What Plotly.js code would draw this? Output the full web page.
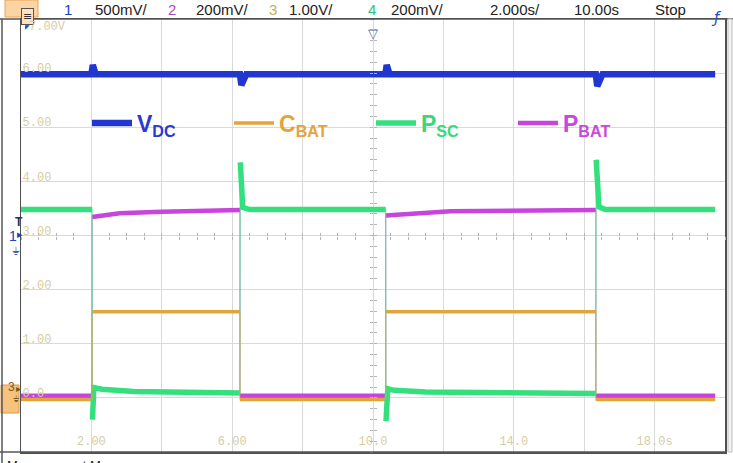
<!DOCTYPE html>
<html><head><meta charset="utf-8">
<script src="https://cdn.plot.ly/plotly-3.0.1.min.js"></script>
<style>html,body{margin:0;padding:0;background:#fff;overflow:hidden}#chart{width:733px;height:463px}</style>
</head><body><div id="chart"></div>
<script>
// ---------------- data (time in s, values in display divisions of the 1.00 V/div scale) ----------------
const vdcTime  = [0, 2.00, 2.04, 2.12, 6.22, 6.26, 6.40, 10.35, 10.39, 10.47, 16.33, 16.37, 16.52, 19.72];
const vdcValue = [5.98, 5.98, 6.15, 5.98, 5.98, 5.78, 5.98, 5.98, 6.15, 5.98, 5.98, 5.76, 5.98, 5.98];

const cbatTime  = [0, 2.02, 2.02, 6.22, 6.22, 10.36, 10.36, 16.33, 16.33, 19.72];
const cbatValue = [-0.03, -0.03, 1.59, 1.59, -0.03, -0.03, 1.59, 1.59, -0.03, -0.03];

const pscTime  = [0, 2.02, 2.03, 2.07, 2.3, 3.2, 6.22, 6.23, 6.26, 6.30, 6.5, 10.36, 10.37, 10.42, 10.6, 11.5, 16.33, 16.34, 16.37, 16.42, 16.6, 19.72];
const pscValue = [3.48, 3.48, -0.40, 0.19, 0.16, 0.12, 0.09, 4.35, 3.85, 3.52, 3.48, 3.48, -0.43, 0.17, 0.14, 0.11, 0.08, 4.40, 3.90, 3.53, 3.48, 3.48];

const pbatTime  = [0, 2.02, 2.02, 2.8, 4.0, 6.22, 6.22, 10.36, 10.36, 12.2, 16.33, 16.33, 19.72];
const pbatValue = [0.04, 0.04, 3.34, 3.41, 3.44, 3.47, 0.04, 0.04, 3.37, 3.45, 3.47, 0.04, 0.04];

const seriesNames  = ['V<sub>DC</sub>', 'C<sub>BAT</sub>', 'P<sub>SC</sub>', 'P<sub>BAT</sub>'];
const seriesColors = ['#2236d2', '#e3a43e', '#34e07e', '#c745dc'];
const legendColors = ['#2a3ad0', '#e6a23c', '#3ad87a', '#c84ad8'];

const xTickVals = [2, 6, 10, 14, 18];
const xTickText = ['2.00', '6.00', '10.0', '14.0', '18.0s'];
const yTickVals = [0, 1, 2, 3, 4, 5, 6];
const yTickText = ['0.0', '1.00', '2.00', '3.00', '4.00', '5.00', '6.00'];
const topLabel = '7.00V';

const headerTexts  = ['1', '500mV/', '2', '200mV/', '3', '1.00V/', '4', '200mV/', '2.000s/', '10.00s', 'Stop'];
const headerColors = ['#2040c0', '#222', '#a050c0', '#222', '#bdb060', '#222', '#30c080', '#222', '#222', '#222', '#222'];
const headerX      = [68, 121, 172, 222, 273, 311, 372, 417, 515, 596, 670];

// ---------------- geometry helpers ----------------
const L = 21, R = 725, T = 19, B = 452;
const px = p => (p - L) / (R - L);
const py = p => (B - p) / (B - T);

function bands(t, v) {
  const bt = [], bv = [];
  for (let i = 0; i < t.length; i++) {
    if (i > 0 && (t[i] - t[i - 1]) < 0.015 && Math.abs(v[i] - v[i - 1]) > 0.8) { bt.push(null); bv.push(null); }
    bt.push(t[i]); bv.push(v[i]);
  }
  return [bt, bv];
}

const series = [
  {t: vdcTime, v: vdcValue, w: 6.5, idx: 0, rank: 1, ax: ['x2', 'y2']},
  {t: pbatTime, v: pbatValue, w: 4.5, idx: 3, rank: 4, ax: ['x', 'y']},
  {t: cbatTime, v: cbatValue, w: 3.5, idx: 1, rank: 2, ax: ['x3', 'y3']},
  {t: pscTime, v: pscValue, w: 5.5, idx: 2, rank: 3, ax: ['x', 'y']}
];

const traces = [];
series.forEach(s => {
  traces.push({x: s.t, y: s.v, type: 'scatter', mode: 'lines', showlegend: false, hoverinfo: 'skip',
    xaxis: s.ax[0], yaxis: s.ax[1], line: {color: seriesColors[s.idx], width: 1.3}, opacity: 0.55});
  const [bt, bv] = bands(s.t, s.v);
  traces.push({x: bt, y: bv, type: 'scatter', mode: 'lines', connectgaps: false, legendrank: s.rank,
    name: '<span style="color:' + legendColors[s.idx] + '">' + seriesNames[s.idx] + '</span>',
    line: {color: seriesColors[s.idx], width: s.w}});
});

const tickFont = {family: 'Liberation Mono, DejaVu Sans Mono, monospace', size: 12, color: '#d6cda2'};

const annotations = [];
headerTexts.forEach((txt, i) => annotations.push({
  xref: 'paper', yref: 'paper', x: px(headerX[i]), y: py(9), xanchor: 'center', yanchor: 'middle',
  text: txt, showarrow: false, font: {family: 'Liberation Sans, Arial', size: 15, color: headerColors[i]}
}));
annotations.push(
  {xref: 'paper', yref: 'paper', x: px(21), y: py(8), text: '≡', showarrow: false, bgcolor: '#fde3c2', bordercolor: '#555', borderwidth: 1, borderpad: 1, font: {family: 'DejaVu Sans', size: 11, color: '#333'}},
  {xref: 'paper', yref: 'paper', x: px(723), y: py(7), text: '<i>ƒ</i>', showarrow: false, font: {family: 'DejaVu Sans', size: 15, color: '#2050c0'}},
  {xref: 'paper', yref: 'paper', x: px(27), y: py(27), xanchor: 'left', yanchor: 'middle', text: topLabel, showarrow: false, font: tickFont},
  {xref: 'paper', yref: 'paper', x: px(373), y: py(24), text: '▽', showarrow: false, font: {family: 'DejaVu Sans', size: 13, color: '#4a70a0'}},
  {xref: 'paper', yref: 'paper', x: px(23), y: py(21), text: '◤', showarrow: false, font: {family: 'DejaVu Sans', size: 6, color: '#2040c0'}},
  {xref: 'paper', yref: 'paper', x: px(13), y: py(222), text: 'T', showarrow: false, font: {family: 'Liberation Sans', size: 12, color: '#203070', weight: 'bold'}},
  {xref: 'paper', yref: 'paper', x: px(7), y: py(236), text: '1', showarrow: false, font: {family: 'Liberation Sans', size: 14, color: '#2040c0'}},
  {xref: 'paper', yref: 'paper', x: px(15), y: py(235), text: '▸', showarrow: false, font: {family: 'DejaVu Sans', size: 11, color: '#2040c0'}},
  {xref: 'paper', yref: 'paper', x: px(10), y: py(251), text: '⏚', showarrow: false, font: {family: 'DejaVu Sans', size: 11, color: '#5060a0'}},
  {xref: 'paper', yref: 'paper', x: px(6), y: py(396), text: '3', showarrow: false, font: {family: 'Liberation Sans', size: 12, color: '#7a5a20'}},
  {xref: 'paper', yref: 'paper', x: px(14), y: py(396), text: '▸', showarrow: false, font: {family: 'DejaVu Sans', size: 10, color: '#7a5a20'}},
  {xref: 'paper', yref: 'paper', x: px(11), y: py(406), text: '⏚', showarrow: false, font: {family: 'DejaVu Sans', size: 9, color: '#7a5a20'}},
  {xref: 'paper', yref: 'paper', x: px(5), y: py(456), xanchor: 'left', yanchor: 'top', text: 'Measurement Menu', showarrow: false, font: {family: 'Liberation Sans', size: 13, color: '#222'}}
);

const shapes = [
  {type: 'rect', xref: 'paper', yref: 'paper', x0: px(5), x1: px(38), y0: py(0), y1: py(17), fillcolor: '#fcd3a2', line: {color: '#e8a45c', width: 1}, layer: 'below'},
  {type: 'line', xref: 'paper', yref: 'paper', x0: px(0), x1: px(733), y0: py(T), y1: py(T), line: {color: '#555', width: 1.5}},
  {type: 'line', xref: 'paper', yref: 'paper', x0: px(2), x1: px(2), y0: py(T), y1: py(463), line: {color: '#555', width: 1.5}},
  {type: 'line', xref: 'paper', yref: 'paper', x0: px(0), x1: px(R), y0: py(B), y1: py(B), line: {color: '#555', width: 1.5}},
  {type: 'rect', xref: 'paper', yref: 'paper', x0: px(728), x1: px(732), y0: py(T), y1: py(B), fillcolor: '#f3f3f3', line: {color: '#bdbdbd', width: 1}},
  {type: 'rect', xref: 'paper', yref: 'paper', x0: px(1), x1: px(19), y0: py(385), y1: py(413), fillcolor: '#f6c27c', line: {color: '#d89a4a', width: 1}, layer: 'below'}
];

const baseAxis = {showgrid: false, zeroline: false, showline: false, showticklabels: false, fixedrange: true};
const gridCol = '#d9d9d9';

const layout = {
  width: 733, height: 463,
  margin: {l: L, r: 733 - R, t: T, b: 463 - B, pad: 0},
  paper_bgcolor: '#ffffff', plot_bgcolor: '#ffffff',
  showlegend: true,
  legend: {orientation: 'h', x: px(87), xanchor: 'left', y: py(123), yanchor: 'middle',
    bgcolor: 'rgba(0,0,0,0)', borderwidth: 0, entrywidth: 87, entrywidthmode: 'pixels', itemwidth: 40,
    font: {family: 'Liberation Sans, Arial', size: 23, weight: 'bold'}, traceorder: 'normal'},
  xaxis: {range: [0, 20], tickvals: xTickVals, ticktext: xTickText, showgrid: true, gridcolor: gridCol, gridwidth: 1,
    minor: {tick0: 0, dtick: 2, showgrid: true, gridcolor: gridCol, gridwidth: 1, ticks: ''},
    zeroline: false, showline: true, mirror: true, linecolor: '#505050', linewidth: 1.5, ticks: '',
    ticklabelposition: 'inside', ticklabelstandoff: 4, tickfont: tickFont, fixedrange: true},
  yaxis: {range: [-1, 7], tickvals: yTickVals, ticktext: yTickText, showgrid: true, gridcolor: gridCol, gridwidth: 1,
    zeroline: false, showline: true, mirror: true, linecolor: '#505050', linewidth: 1.5, ticks: '',
    ticklabelposition: 'inside', ticklabelshift: -5, ticklabelstandoff: 1, tickfont: tickFont, fixedrange: true},
  xaxis2: Object.assign({}, baseAxis, {overlaying: 'x', anchor: 'free', position: 0.5, range: [0, 20], tick0: 0, dtick: 0.5, ticks: 'outside', ticklen: 3, tickcolor: '#b5b5b5'}),
  xaxis3: Object.assign({}, baseAxis, {overlaying: 'x', anchor: 'free', position: 0.5, range: [0, 20], tick0: 0, dtick: 0.5, ticks: 'inside', ticklen: 3, tickcolor: '#b5b5b5'}),
  yaxis2: Object.assign({}, baseAxis, {overlaying: 'y', anchor: 'free', position: 0.5, range: [-1, 7], tick0: 0, dtick: 0.2, ticks: 'outside', ticklen: 3, tickcolor: '#b5b5b5'}),
  yaxis3: Object.assign({}, baseAxis, {overlaying: 'y', anchor: 'free', position: 0.5, range: [-1, 7], tick0: 0, dtick: 0.2, ticks: 'inside', ticklen: 3, tickcolor: '#b5b5b5'}),
  annotations: annotations,
  shapes: shapes
};

Plotly.newPlot('chart', traces, layout, {staticPlot: true, displayModeBar: false});
</script></body></html>
